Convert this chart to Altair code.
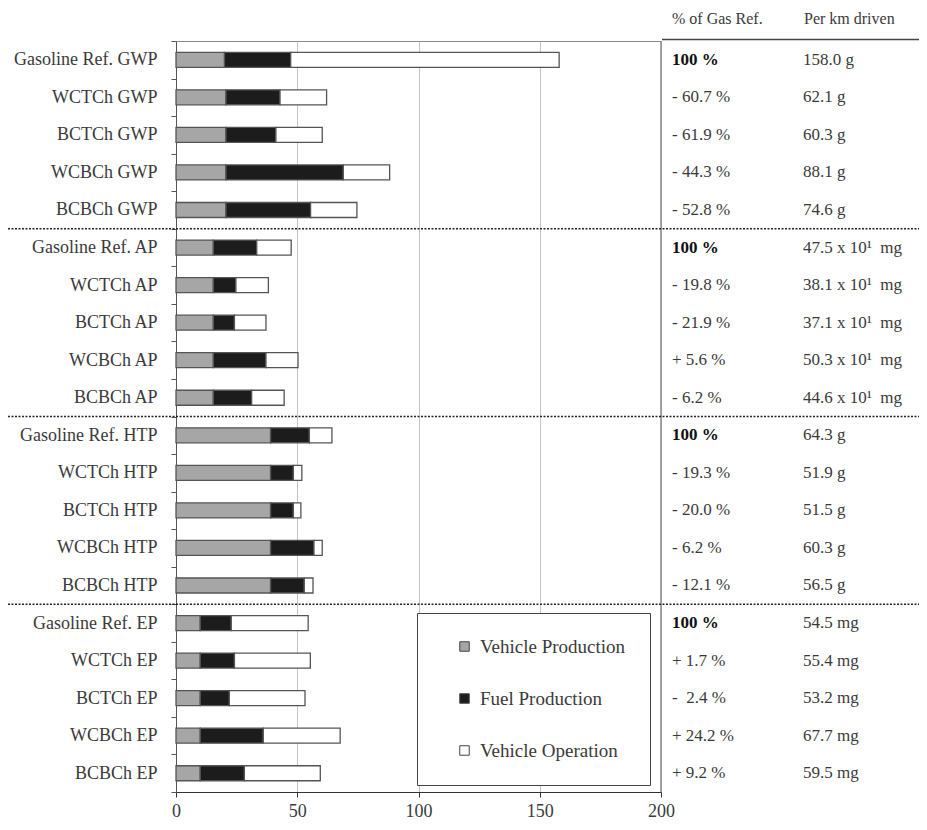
import altair as alt
import pandas as pd

categories = [
    "Gasoline Ref. GWP", "WCTCh GWP", "BCTCh GWP", "WCBCh GWP", "BCBCh GWP",
    "Gasoline Ref. AP", "WCTCh AP", "BCTCh AP", "WCBCh AP", "BCBCh AP",
    "Gasoline Ref. HTP", "WCTCh HTP", "BCTCh HTP", "WCBCh HTP", "BCBCh HTP",
    "Gasoline Ref. EP", "WCTCh EP", "BCTCh EP", "WCBCh EP", "BCBCh EP",
]
components = ["Vehicle Production", "Fuel Production", "Vehicle Operation"]
component_colors = ["#a6a6a6", "#1c1c1c", "#ffffff"]

vehicle_production = [20.0, 20.6, 20.6, 20.6, 20.6,
                      15.4, 15.4, 15.4, 15.4, 15.4,
                      39.0, 39.0, 39.0, 39.0, 39.0,
                      10.0, 10.0, 10.0, 10.0, 10.0]
fuel_production = [27.3, 22.3, 20.6, 48.4, 34.9,
                   17.9, 9.3, 8.7, 21.7, 15.8,
                   16.0, 9.4, 9.4, 17.9, 13.9,
                   12.8, 14.1, 12.0, 26.0, 18.2]
vehicle_operation = [110.7, 19.2, 19.1, 19.1, 19.1,
                     14.2, 13.4, 13.0, 13.2, 13.4,
                     9.3, 3.5, 3.1, 3.4, 3.6,
                     31.7, 31.3, 31.2, 31.7, 31.3]

pct_of_gas_ref = ["100 %", "- 60.7 %", "- 61.9 %", "- 44.3 %", "- 52.8 %",
                  "100 %", "- 19.8 %", "- 21.9 %", "+ 5.6 %", "- 6.2 %",
                  "100 %", "- 19.3 %", "- 20.0 %", "- 6.2 %", "- 12.1 %",
                  "100 %", "+ 1.7 %", "-\u00a0\u00a02.4 %", "+ 24.2 %", "+ 9.2 %"]
per_km_driven = ["158.0 g", "62.1 g", "60.3 g", "88.1 g", "74.6 g",
                 "47.5 x 10\u00b9\u00a0\u00a0mg", "38.1 x 10\u00b9\u00a0\u00a0mg",
                 "37.1 x 10\u00b9\u00a0\u00a0mg", "50.3 x 10\u00b9\u00a0\u00a0mg",
                 "44.6 x 10\u00b9\u00a0\u00a0mg",
                 "64.3 g", "51.9 g", "51.5 g", "60.3 g", "56.5 g",
                 "54.5 mg", "55.4 mg", "53.2 mg", "67.7 mg", "59.5 mg"]
table_headers = ["% of Gas Ref.", "Per km driven"]
group_starts = ["Gasoline Ref. AP", "Gasoline Ref. HTP", "Gasoline Ref. EP"]

FONT = "Liberation Serif, Times New Roman, serif"
TXT = "#3a3a3a"

rows = []
for i, cat in enumerate(categories):
    for k, (comp, vals) in enumerate(zip(components, [vehicle_production, fuel_production, vehicle_operation])):
        rows.append({"category": cat, "component": comp, "value": vals[i], "order": k})
bars_df = pd.DataFrame(rows)

table_df = pd.DataFrame({
    "category": categories,
    "pct": pct_of_gas_ref,
    "perkm": per_km_driven,
    "bold": [p == "100 %" for p in pct_of_gas_ref],
})
header_df = pd.DataFrame({"header": table_headers, "col": [0, 1]})
sep_df = pd.DataFrame({"category": group_starts})


def y_axis_enc(**kw):
    return alt.Y(
        "category:N", sort=categories, title=None,
        scale=alt.Scale(paddingInner=0, paddingOuter=0),
        axis=alt.Axis(labelFont=FONT, labelFontSize=18, labelColor=TXT,
                      tickBand="extent", tickSize=5, labelPadding=14,
                      domainColor="#555555", tickColor="#555555", grid=False),
        **kw,
    )


y_enc = y_axis_enc()

bars = alt.Chart(bars_df).mark_bar(size=15, stroke="#555555", strokeWidth=1.3).encode(
    x=alt.X("value:Q", stack="zero", title=None,
            scale=alt.Scale(domain=[0, 200], nice=False),
            axis=alt.Axis(values=[0, 50, 100, 150, 200], grid=True, gridColor="#c4c4c4",
                          domainColor="#333333", tickColor="#333333", tickSize=5,
                          labelPadding=5, labelFont=FONT, labelFontSize=18,
                          labelColor=TXT, labelFlush=False)),
    y=y_enc,
    order=alt.Order("order:Q"),
    color=alt.Color("component:N",
                    scale=alt.Scale(domain=components, range=component_colors),
                    legend=alt.Legend(orient="none", legendX=241, legendY=572, title=None,
                                      labelFont=FONT, labelFontSize=19, labelColor=TXT,
                                      symbolType="square", symbolSize=90,
                                      symbolStrokeColor="#444444", symbolStrokeWidth=1,
                                      rowPadding=32, padding=24, symbolOffset=14,
                                      labelOffset=6, strokeColor="#444444",
                                      fillColor="#ffffff", direction="vertical")),
)

pct_text = alt.Chart(table_df).transform_filter("!datum.bold").mark_text(
    align="left", baseline="middle", font=FONT, fontSize=17, color=TXT
).encode(y=y_enc, x=alt.value(496), text="pct:N")

pct_bold = alt.Chart(table_df).transform_filter("datum.bold").mark_text(
    align="left", baseline="middle", font=FONT, fontSize=17, color="#111111", fontWeight="bold"
).encode(y=y_enc, x=alt.value(496), text="pct:N")

perkm_text = alt.Chart(table_df).mark_text(
    align="left", baseline="middle", font=FONT, fontSize=17, color=TXT
).encode(y=y_enc, x=alt.value(627), text="perkm:N")

header0 = alt.Chart(header_df).transform_filter("datum.col == 0").mark_text(
    align="left", baseline="middle", font=FONT, fontSize=16, color=TXT
).encode(x=alt.value(496), y=alt.value(-22), text="header:N")
header1 = alt.Chart(header_df).transform_filter("datum.col == 1").mark_text(
    align="left", baseline="middle", font=FONT, fontSize=16, color=TXT
).encode(x=alt.value(628), y=alt.value(-22), text="header:N")

header_line = alt.Chart(header_df).transform_filter("datum.col == 0").mark_rule(
    color="#444444", strokeWidth=1.5
).encode(x=alt.value(486), x2=alt.value(747), y=alt.value(-1.5))

table_border = alt.Chart(pd.DataFrame({"v": [200]})).mark_rule(
    color="#8a8a8a", strokeWidth=1.5
).encode(x="v:Q")

separators = alt.Chart(sep_df).mark_rule(
    color="#222222", strokeWidth=1.5, strokeDash=[2, 1.5]
).encode(
    y=y_axis_enc(bandPosition=0),
    x=alt.value(-168), x2=alt.value(743),
)

chart = alt.layer(
    bars, table_border, separators, pct_text, pct_bold, perkm_text,
    header0, header1, header_line
).properties(
    width=485, height=751,
    autosize=alt.AutoSizeParams(type="none"),
    padding={"left": 168, "top": 33, "right": 258, "bottom": 28},
    background="white",
).configure_view(stroke="#8a8a8a", strokeWidth=1)

chart.save("out.html", embed_options={"renderer": "svg", "actions": False})
